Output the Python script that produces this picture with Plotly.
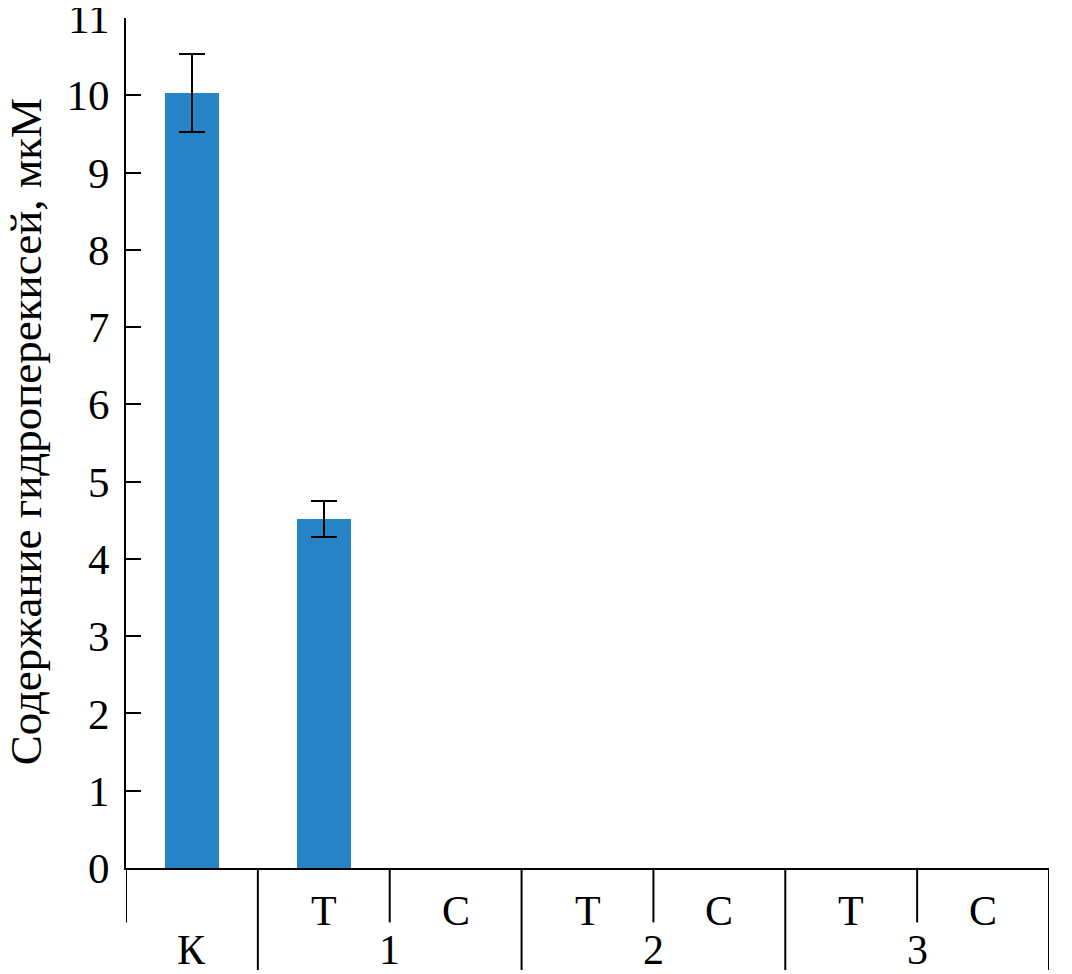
import plotly.graph_objects as go

# ---- data ----
sub_labels = ["К", "Т", "С", "Т", "С", "Т", "С"]
group_labels = ["К", "1", "1", "2", "2", "3", "3"]
values = [10.03, 4.52, None, None, None, None, None]
errors = [0.51, 0.23, None, None, None, None, None]
y_ticks = list(range(0, 12))
y_title = "Содержание гидроперекисей, мкМ"

FONT = "Liberation Serif"
LBL = 42
n = len(sub_labels)
xpos = [i + 0.5 for i in range(n)]

fig = go.Figure()
fig.add_trace(go.Bar(
    x=xpos, y=values, width=0.41,
    marker=dict(color="#2683C6", line=dict(width=0)),
    error_y=dict(type="data", array=errors, visible=True,
                 color="black", thickness=2, width=13),
    showlegend=False,
))

shapes = []
annotations = []
short_y = -0.064
long_y = -0.12
for b in range(n + 1):
    if b == 0:
        y1 = short_y
    elif b == n:
        y1 = long_y
    else:
        y1 = long_y if group_labels[b] != group_labels[b - 1] else short_y
    shapes.append(dict(type="line", xref="x", yref="paper", x0=b, x1=b,
                       y0=0, y1=y1, line=dict(color="black", width=2)))

groups = []
for i, g in enumerate(group_labels):
    if groups and groups[-1][0] == g:
        groups[-1][2] = i
    else:
        groups.append([g, i, i])
for g, s, e in groups:
    if s == e:
        annotations.append(dict(x=s + 0.5, y=-0.097, xref="x", yref="paper",
                                text=g, showarrow=False, yanchor="middle",
                                font=dict(family=FONT, size=LBL, color="black")))
    else:
        for i in range(s, e + 1):
            annotations.append(dict(x=i + 0.5, y=-0.05, xref="x", yref="paper",
                                    text=sub_labels[i], showarrow=False, yanchor="middle",
                                    font=dict(family=FONT, size=LBL, color="black")))
        annotations.append(dict(x=(s + e + 1) / 2, y=-0.097, xref="x", yref="paper",
                                text=g, showarrow=False, yanchor="middle",
                                font=dict(family=FONT, size=LBL, color="black")))

# y-axis title as a rotated annotation
annotations.append(dict(x=-0.108, y=0.513, xref="paper", yref="paper",
                        text=y_title, textangle=-90, showarrow=False,
                        xanchor="center", yanchor="middle", borderpad=0,
                        font=dict(family=FONT, size=45, color="black")))

fig.update_layout(
    width=1064, height=966,
    margin=dict(l=118, r=23, t=10, b=106),
    paper_bgcolor="white", plot_bgcolor="white",
    shapes=shapes, annotations=annotations,
    xaxis=dict(range=[0, n], showticklabels=False, ticks="", showgrid=False,
               zeroline=False, showline=True, linecolor="black", linewidth=2,
               automargin=False),
    yaxis=dict(range=[0, 11], tickvals=y_ticks, ticks="inside", ticklen=15,
               tickwidth=2, tickcolor="black", showgrid=False, zeroline=False,
               showline=True, linecolor="black", linewidth=2,
               ticklabelstandoff=6, automargin=False,
               ticklabeloverflow="allow",
               tickfont=dict(family=FONT, size=43, color="black")),
    bargap=0,
)

fig.write_html("out.html")
